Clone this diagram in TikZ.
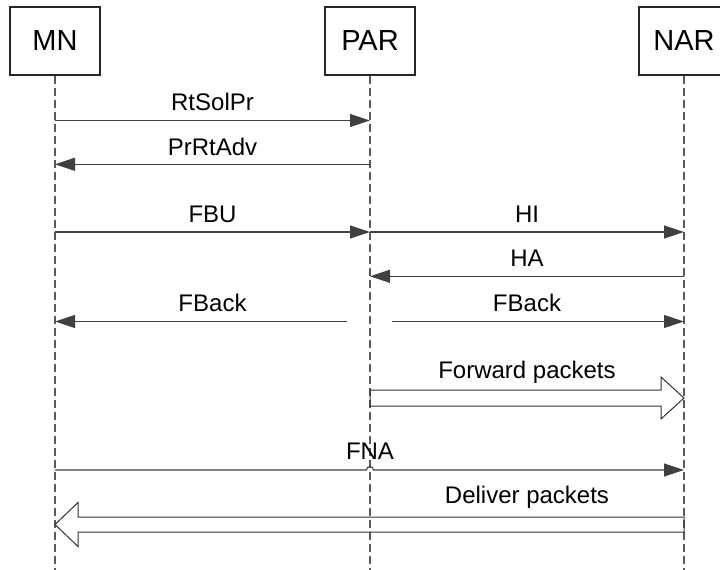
\documentclass[tikz,border=0pt]{standalone}
\usepackage{fontspec}
\setmainfont{Liberation Sans}
\usetikzlibrary{arrows.meta,calc}
\begin{document}
\begin{tikzpicture}[x=1pt,y=-1pt,
  actor/.style={draw=black!85, line width=1.3pt, minimum width=90pt,
    minimum height=68pt, inner sep=0pt, font=\fontsize{29}{31}\selectfont},
  lifeline/.style={draw=black!65, line width=1.2pt, dash pattern=on 8pt off 4pt},
  msg/.style={draw=black!75, line width=1.1pt, -{Triangle[length=20pt,width=13pt]}},
  lbl/.style={font=\fontsize{24}{26}\selectfont, anchor=base, yshift=10pt},
  bigarrow/.style={draw=black!80, line width=1pt}
]
\useasboundingbox (0,0) rectangle (720,570);

% participants
\node[actor] (MN)  at (55,41)  {MN};
\node[actor] (PAR) at (370,41) {PAR};
\node[actor] (NAR) at (684,41) {NAR};

% lifelines
\coordinate (MNend)  at (55,570);
\coordinate (PARend) at (370,570);
\coordinate (NARend) at (684,570);
\draw[lifeline] (MN.south)  -- (MNend);
\draw[lifeline] (PAR.south) -- (PARend);
\draw[lifeline] (NAR.south) -- (NARend);

% message rows
\coordinate (r1) at (0,120.5);
\coordinate (r2) at (0,164.3);
\coordinate (r3) at (0,232);
\coordinate (r4) at (0,276.3);
\coordinate (r5) at (0,321.5);
\coordinate (r6) at (0,398);
\coordinate (r7) at (0,470);
\coordinate (r8) at (0,524.5);

% RtSolPr / PrRtAdv
\draw[msg] (MN|-r1) -- (PAR|-r1) node[lbl, midway, yshift=0.5pt] {RtSolPr};
\draw[msg] (PAR|-r2) -- (MN|-r2) node[lbl, midway, yshift=-0.7pt] {PrRtAdv};

% FBU / HI
\draw[msg] (MN|-r3) -- (PAR|-r3) node[lbl, midway] {FBU};
\draw[msg] (PAR|-r3) -- (NAR|-r3) node[lbl, midway] {HI};

% HA
\draw[msg] (NAR|-r4) -- (PAR|-r4) node[lbl, midway] {HA};

% FBack to both sides
\coordinate (fbl) at (347,321.5);
\coordinate (fbr) at (392,321.5);
\draw[msg] (fbl) -- (MN|-r5);
\draw[msg] (fbr) -- (NAR|-r5);
\path (MN|-r5) -- (PAR|-r5) node[lbl, midway] {FBack};
\path (PAR|-r5) -- (NAR|-r5) node[lbl, midway] {FBack};

% Forward packets
\coordinate (fs) at (PAR|-r6);
\coordinate (fe) at (NAR|-r6);
\draw[bigarrow] ($(fs)+(0,-8)$) -- ($(fe)+(-23,-8)$) -- ($(fe)+(-23,-21)$)
  -- (fe) -- ($(fe)+(-23,21)$) -- ($(fe)+(-23,8)$) -- ($(fs)+(0,8)$) -- cycle;
\path (fs) -- (fe) node[lbl, midway, yshift=9.7pt] {Forward packets};

% FNA, hopping over the PAR lifeline
\draw[msg] (MN|-r7) -- ($(PAR|-r7)+(-3.5,0)$)
  arc[start angle=180, end angle=360, radius=3.5] -- (NAR|-r7);
\node[lbl, yshift=0.7pt] at (PAR|-r7) {FNA};

% Deliver packets
\coordinate (ds) at (NAR|-r8);
\coordinate (de) at (MN|-r8);
\draw[bigarrow] ($(ds)+(0,-7.5)$) -- ($(de)+(23,-7.5)$) -- ($(de)+(23,-22)$)
  -- (de) -- ($(de)+(23,22)$) -- ($(de)+(23,7.5)$) -- ($(ds)+(0,7.5)$) -- cycle;
\path (PAR|-r8) -- (ds) node[lbl, midway, yshift=11.2pt] {Deliver packets};
\end{tikzpicture}
\end{document}
